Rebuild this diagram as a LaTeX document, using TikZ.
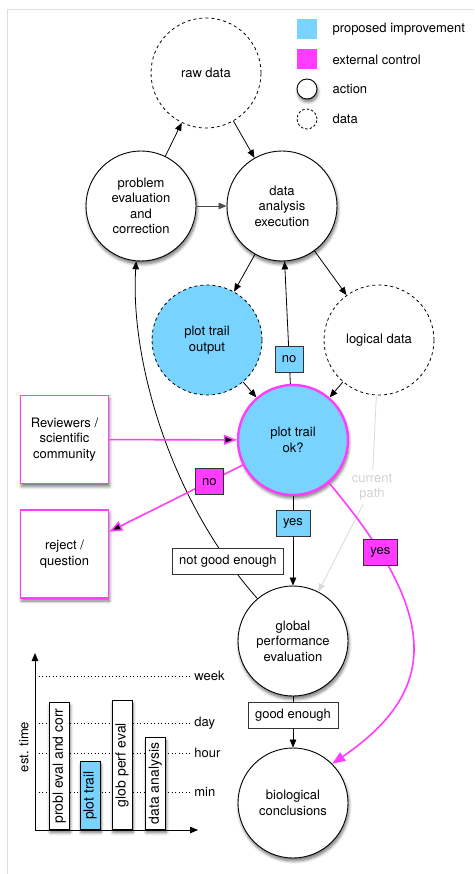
\documentclass[tikz,border=0pt]{standalone}
\usepackage{fontspec}
\setmainfont{TeX Gyre Heros}
\usepackage{xcolor}
\usepackage{tikz}
\usetikzlibrary{arrows.meta,shadows.blur}
\definecolor{improve}{RGB}{120,212,255}
\definecolor{control}{RGB}{255,60,255}

\begin{document}
\begin{tikzpicture}[x=1pt, y=-1pt, font=\fontsize{13}{15.5}\selectfont, >={Triangle[length=8pt, width=6.5pt]}]
\tikzstyle{lifted}=[blur shadow={shadow blur steps=6, shadow blur radius=3pt, shadow xshift=1pt, shadow yshift=-3pt, shadow opacity=55}]
\tikzstyle{action}=[circle, draw, line width=.9pt, fill=white, minimum size=110pt, inner sep=0pt, align=center, lifted]
\tikzstyle{data}=[circle, draw, dashed, line width=.8pt, minimum size=110pt, inner sep=0pt, align=center]
\tikzstyle{extern}=[rectangle, draw=control, line width=1.6pt, fill=white, minimum size=88pt, inner sep=2pt, align=center, lifted]
\tikzstyle{tag}=[rectangle, draw=black!80, line width=.8pt, fill=white, minimum height=26pt, minimum width=26pt, inner xsep=7pt]
\tikzstyle{ctrl}=[draw=control, line width=1.6pt, -{Triangle[length=13pt, width=10pt]}]
\tikzstyle{bar}=[rectangle, draw, line width=.9pt, fill=white, minimum height=20pt, inner sep=2pt, font=\fontsize{14}{16}\selectfont, lifted]
\tikzstyle{level}=[dash pattern=on 1pt off 2.5pt, line width=.8pt]

\useasboundingbox (0,0) rectangle (474,874);
\draw[gray!25, line width=1pt] (7,874) -- (7,10) -- (474,10);

\node[fill=improve, minimum size=20pt] (limp) at (307,29) {};
\node[fill=control, minimum size=20pt] (lctl) at (307,59.5) {};
\node[action, minimum size=20pt] (lact) at (307,89) {};
\node[data, minimum size=20pt, dash pattern=on 2.5pt off 2pt] (ldat) at (307,119) {};
\node[anchor=west] (timp) at (329,29) {proposed improvement};
\node[anchor=west] (tctl) at (329,59.5) {external control};
\node[anchor=west] (tact) at (329,89) {action};
\node[anchor=west] (tdat) at (329,119) {data};

\node[data] (raw) at (206,73) {raw data};
\node[action] (prob) at (141,206) {problem\\evaluation\\and\\correction};
\node[action] (exec) at (282,206) {data\\analysis\\execution};
\node[data, fill=improve] (out) at (207,340) {plot trail\\output};
\node[data] (logic) at (379,340) {logical data};
\node[action, draw=control, line width=2.4pt, fill=improve] (ok) at (293,440) {plot trail\\ok?};
\node[action] (glob) at (293,641) {global\\performance\\evaluation};
\node[action] (bio) at (293,803) {biological\\conclusions};
\node[extern] (rev) at (64.5,439.5) {Reviewers /\\scientific\\community};
\node[extern] (rej) at (64.5,554) {reject /\\question};
\node[text=gray!35, align=center] (cur) at (372,487) {current\\path};

\path[->, line width=.8pt]
(prob) edge (raw)
       edge[black!70] (exec)
(raw) edge (exec)
(exec) edge (out)
       edge (logic)
(out) edge (ok)
(logic) edge (ok)
(ok) edge node[tag, fill=improve, pos=.2] {no} (exec)
     edge node[tag, fill=improve, pos=.3] {yes} (glob)
(glob) edge node[tag, pos=.37] {good enough} (bio);
\draw[->, line width=.8pt] (glob.130) .. controls (170,500) and (130,360) .. (prob.-95)
  node[tag, pos=.12] {not good enough};

\path[->, gray!30, line width=.8pt]
(logic) edge[-] (cur)
(cur) edge (glob);

\path[ctrl]
(rev) edge (ok)
(ok) edge node[tag, fill=control, pos=.25] {no} (rej);
\draw[ctrl] (ok.-50) .. controls (440,615) and (440,690) .. (bio.45)
  node[tag, fill=control, pos=.19] {yes};

\coordinate (origin) at (35,830);
\coordinate (ytip) at (35,653);
\coordinate (xtip) at (198,830);
\draw[level] (35,676) -- (191,676) node[right, inner sep=3pt] (week) {week};
\draw[level] (35,723) -- (191,723) node[right, inner sep=3pt] (day) {day};
\draw[level] (35,753) -- (191,753) node[right, inner sep=3pt] (hour) {hour};
\draw[level] (35,792) -- (191,792) node[right, inner sep=3pt] (min) {min};
\node[bar, rotate=90, anchor=west, minimum width=127pt] (b1) at (59.2,830) {probl eval and corr};
\node[bar, rotate=90, anchor=west, minimum width=68pt, fill=improve] (b2) at (90,830) {plot trail};
\node[bar, rotate=90, anchor=west, minimum width=129pt] (b3) at (122,830) {glob perf eval};
\node[bar, rotate=90, anchor=west, minimum width=92pt] (b4) at (155.3,830) {data analysis};
\draw[->, line width=.9pt] (origin) -- (ytip);
\draw[->, line width=.9pt] (origin) -- (xtip);
\node[rotate=90] (esttime) at (24,747) {est. time};
\end{tikzpicture}
\end{document}
